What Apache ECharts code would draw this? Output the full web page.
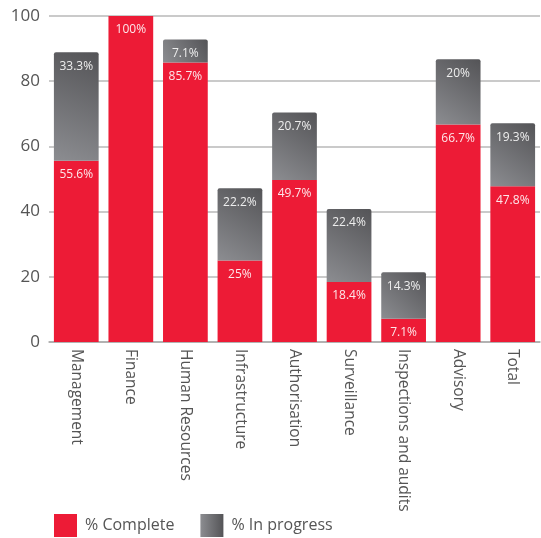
<!DOCTYPE html>
<html>
<head>
<meta charset="utf-8">
<script src="https://cdn.jsdelivr.net/npm/echarts@6/dist/echarts.min.js"></script>
<style>
  html, body { margin: 0; padding: 0; background: #fff; }
  #chart { width: 541px; height: 538px; }
</style>
</head>
<body>
<div id="chart"></div>
<script>
const categories = ['Management', 'Finance', 'Human Resources', 'Infrastructure', 'Authorisation',
  'Surveillance', 'Inspections and audits', 'Advisory', 'Total'];
const completeValues = [55.6, 100, 85.7, 25, 49.7, 18.4, 7.1, 66.7, 47.8];
const inProgressValues = [33.3, null, 7.1, 22.2, 20.7, 22.4, 14.3, 20, 19.3];
const yTicks = [0, 20, 40, 60, 80, 100];

const FONT = '"Open Sans", "Noto Sans", sans-serif';
const RED = '#ed1b36';
const greyFill = new echarts.graphic.LinearGradient(0, 1, 1, 0, [
  { offset: 0, color: '#8c8d91' },
  { offset: 1, color: '#545457' }
]);
const greyLegend = new echarts.graphic.LinearGradient(0, 0, 1, 0, [
  { offset: 0, color: '#8c8d91' },
  { offset: 1, color: '#545457' }
]);

const chart = echarts.init(document.getElementById('chart'), null, { renderer: 'canvas' });

const pctLabel = (color) => ({
  show: true,
  position: 'insideTop',
  distance: 8,
  color: color,
  fontFamily: FONT,
  fontSize: 12,
  formatter: (p) => p.value + '%'
});

chart.setOption({
  animation: false,
  textStyle: { fontFamily: FONT },
  grid: { left: 49, right: 1, top: 16, bottom: 196, containLabel: false },
  legend: {
    left: 54,
    bottom: 1,
    padding: 0,
    itemWidth: 23,
    itemHeight: 23,
    itemGap: 26,
    icon: 'rect',
    textStyle: { fontFamily: FONT, fontSize: 16, color: '#555', padding: [0, 0, 0, 3] },
    data: [
      { name: '% Complete', itemStyle: { color: RED } },
      { name: '% In progress', itemStyle: { color: greyLegend } }
    ]
  },
  xAxis: {
    type: 'category',
    data: categories,
    axisLine: { lineStyle: { color: '#aaa', width: 1.5 } },
    axisTick: { show: false },
    axisLabel: {
      rotate: -90,
      margin: 7,
      color: '#555',
      fontFamily: FONT,
      fontSize: 15.5,
      interval: 0
    }
  },
  yAxis: {
    type: 'value',
    min: yTicks[0],
    max: yTicks[yTicks.length - 1],
    interval: 20,
    axisLine: { show: false },
    axisTick: { show: false },
    splitLine: { lineStyle: { color: '#b8b8b8', width: 1.5 } },
    axisLabel: { color: '#555', fontFamily: FONT, fontSize: 17, margin: 9 }
  },
  series: [
    {
      name: '% Complete',
      type: 'bar',
      stack: 'total',
      barWidth: '82%',
      data: completeValues,
      itemStyle: { color: RED },
      label: pctLabel('#fde7ea')
    },
    {
      name: '% In progress',
      type: 'bar',
      stack: 'total',
      barWidth: '82%',
      data: inProgressValues,
      itemStyle: { color: greyFill, borderRadius: [2, 2, 0, 0] },
      label: pctLabel('#eeeeee')
    }
  ]
});
</script>
</body>
</html>
